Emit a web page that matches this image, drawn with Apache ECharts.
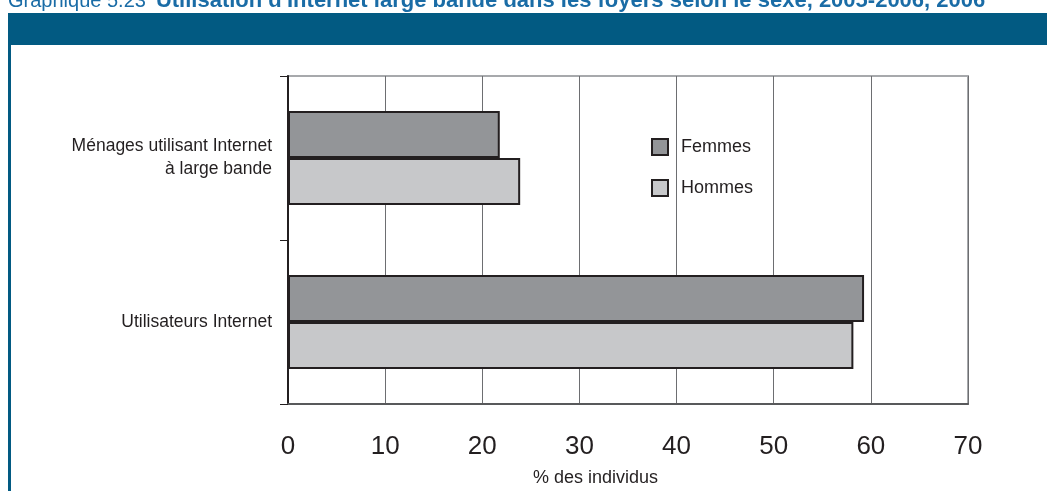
<!DOCTYPE html>
<html>
<head>
<meta charset="utf-8">
<script src="https://cdn.jsdelivr.net/npm/echarts@6/dist/echarts.min.js"></script>
<style>
  html, body { margin: 0; padding: 0; background: #ffffff; }
  #chart { width: 1047px; height: 491px; }
</style>
</head>
<body>
<div id="chart"></div>
<script>
// Categories, bottom to top on the vertical axis
const categories = ['Utilisateurs Internet', 'Ménages utilisant Internet\nà large bande'];
const femmes = [59.3, 21.8];
const hommes = [58.2, 23.9];
const xTicks = [0, 10, 20, 30, 40, 50, 60, 70];

const FONT = '"Liberation Sans", Arial, Helvetica, sans-serif';
const INK = '#231f20';
const chart = echarts.init(document.getElementById('chart'), null, { renderer: 'canvas' });

chart.setOption({
  animation: false,
  backgroundColor: '#ffffff',
  graphic: [
    // heading band
    { type: 'rect', left: 8, top: 13, shape: { width: 1039, height: 32 }, style: { fill: '#025a82' }, z: 0 },
    // left frame line
    { type: 'rect', left: 8, top: 45, shape: { width: 3, height: 446 }, style: { fill: '#025a82' }, z: 0 },
    // heading text, running off the top of the page
    {
      type: 'text', left: 8, top: -10, z: 1,
      style: {
        text: "{n|Graphique 5.23}   {b|Utilisation d'Internet large bande dans les foyers selon le sexe, 2005-2006, 2006}",
        rich: {
          n: { fill: '#1a6ca6', font: '20px ' + FONT },
          b: { fill: '#1a6ca6', font: 'bold 22px ' + FONT }
        }
      }
    },
    // axis title
    {
      type: 'text', left: 533, top: 469, z: 1,
      style: { text: '% des individus', fill: INK, font: '18px ' + FONT }
    }
  ],
  grid: { left: 288, right: 79, top: 76, bottom: 87, show: true, borderColor: '#a7a9ac', borderWidth: 2 },
  legend: {
    data: ['Femmes', 'Hommes'],
    orient: 'vertical',
    left: 651, top: 137, padding: 0,
    itemWidth: 16, itemHeight: 16, itemGap: 21,
    icon: 'rect',
    textStyle: { fontFamily: FONT, fontSize: 18, lineHeight: 20, color: INK, padding: [0, 0, 0, 8] }
  },
  xAxis: {
    type: 'value', min: 0, max: 70, interval: 10,
    axisLine: { show: true, lineStyle: { color: '#58595b', width: 2 } },
    axisTick: { show: false },
    splitLine: { show: true, lineStyle: { color: '#6d6e71', width: 1 } },
    axisLabel: {
      margin: 30, fontFamily: FONT, fontSize: 26, color: INK,
      formatter: v => (xTicks.indexOf(v) >= 0 ? String(v) : '')
    }
  },
  yAxis: {
    type: 'category', data: categories,
    axisLine: { show: true, lineStyle: { color: INK, width: 2 } },
    axisTick: { show: true, length: 8, lineStyle: { color: INK, width: 1 } },
    axisLabel: {
      margin: 16, fontFamily: FONT, fontSize: 17.5, lineHeight: 23, color: INK, align: 'right',
      padding: [6, 0, 0, 0]
    }
  },
  series: [
    {
      name: 'Femmes', type: 'bar', data: femmes,
      barWidth: 47, barGap: '0%',
      itemStyle: { color: '#939598', borderColor: INK, borderWidth: 2 }
    },
    {
      name: 'Hommes', type: 'bar', data: hommes,
      barWidth: 47, barGap: '0%',
      itemStyle: { color: '#c7c8ca', borderColor: INK, borderWidth: 2 }
    }
  ]
});
</script>
</body>
</html>
